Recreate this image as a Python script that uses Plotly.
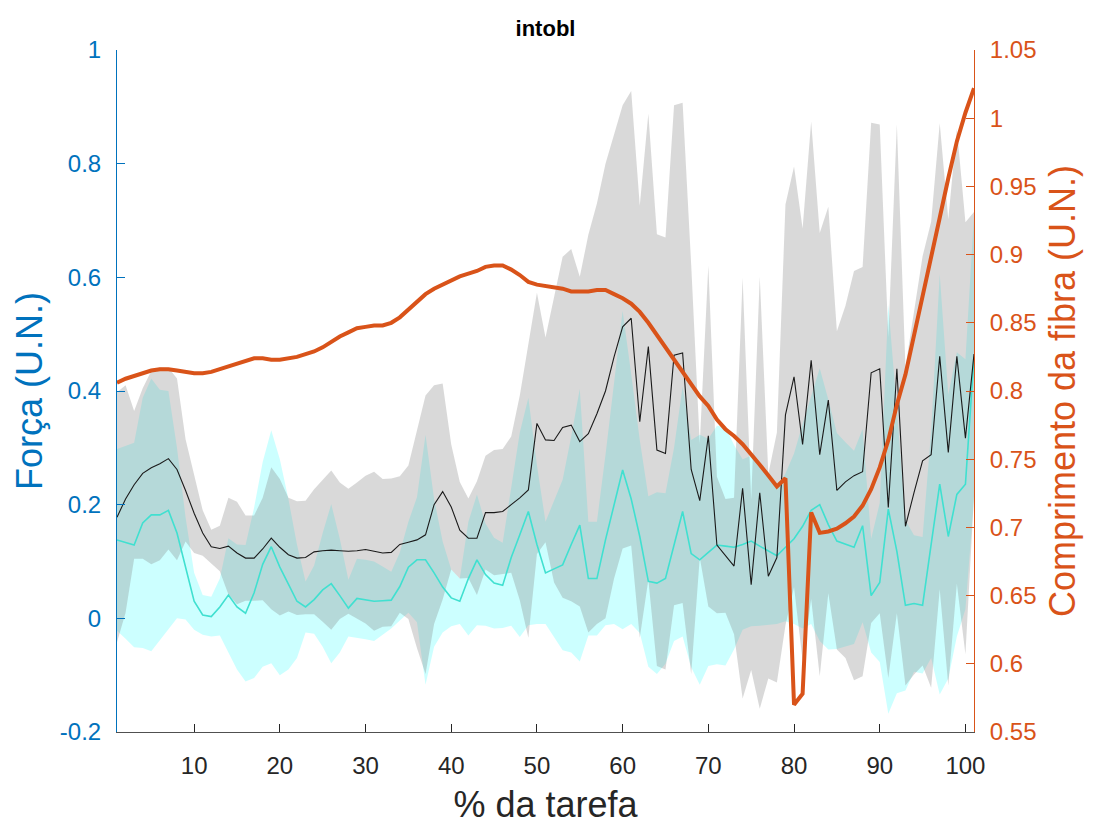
import plotly.graph_objects as go

# % da tarefa (1..101)
pct = list(range(1, 102))

# Força média (traço preto) e desvio-padrão (faixa cinzenta)
forca_media = [
    0.178, 0.21, 0.235, 0.255, 0.265, 0.272, 0.281, 0.262, 0.225, 0.185,
    0.15, 0.126, 0.123, 0.127, 0.115, 0.106, 0.106, 0.122, 0.141, 0.125,
    0.112, 0.106, 0.107, 0.117, 0.119, 0.12, 0.119, 0.118, 0.119, 0.121,
    0.118, 0.115, 0.116, 0.13, 0.134, 0.138, 0.147, 0.2, 0.223, 0.196,
    0.155, 0.141, 0.141, 0.186, 0.186, 0.188, 0.2, 0.212, 0.226, 0.343,
    0.314, 0.313, 0.336, 0.34, 0.311, 0.325, 0.36, 0.40, 0.46, 0.513,
    0.528, 0.346, 0.478, 0.296, 0.29, 0.463, 0.467, 0.262, 0.207, 0.321,
    0.129, 0.11, 0.092, 0.229, 0.059, 0.221, 0.074, 0.107, 0.358, 0.425,
    0.306, 0.454, 0.288, 0.384, 0.225, 0.24, 0.251, 0.258, 0.432, 0.439,
    0.195, 0.439, 0.162, 0.221, 0.277, 0.288, 0.461, 0.292, 0.461, 0.317,
    0.465,
]
forca_dp = [
    0.22, 0.20, 0.13, 0.15, 0.17, 0.17, 0.16, 0.16, 0.09, 0.07,
    0.04, 0.03, 0.04, 0.085, 0.09, 0.075, 0.075, 0.09, 0.125, 0.12,
    0.10, 0.10, 0.10, 0.11, 0.125, 0.14, 0.12, 0.11, 0.12, 0.13,
    0.14, 0.13, 0.13, 0.12, 0.135, 0.19, 0.245, 0.21, 0.19, 0.11,
    0.085, 0.07, 0.10, 0.10, 0.11, 0.11, 0.12, 0.18, 0.26, 0.23,
    0.18, 0.25, 0.30, 0.31, 0.29, 0.35, 0.37, 0.40, 0.39, 0.39,
    0.40, 0.38, 0.41, 0.38, 0.38, 0.44, 0.44, 0.36, 0.10, 0.30,
    0.12, 0.10, 0.12, 0.37, 0.15, 0.38, 0.18, 0.22, 0.37, 0.37,
    0.38, 0.42, 0.39, 0.34, 0.28, 0.31, 0.36, 0.36, 0.44, 0.43,
    0.30, 0.43, 0.28, 0.32, 0.36, 0.41, 0.41, 0.41, 0.40, 0.38,
    0.25,
]

# Segunda série de força (traço turquesa) e desvio-padrão (faixa ciano)
forca2_media = [
    0.138, 0.134, 0.129, 0.168, 0.182, 0.182, 0.19, 0.15, 0.088, 0.03,
    0.006, 0.003, 0.02, 0.041, 0.02, 0.009, 0.045, 0.095, 0.126, 0.09,
    0.06, 0.03, 0.02, 0.033, 0.05, 0.061, 0.04, 0.018, 0.035, 0.033,
    0.03, 0.031, 0.032, 0.056, 0.09, 0.103, 0.103, 0.08, 0.055, 0.036,
    0.03, 0.07, 0.103, 0.077, 0.062, 0.058, 0.107, 0.147, 0.188, 0.13,
    0.08, 0.087, 0.094, 0.13, 0.164, 0.07, 0.07, 0.138, 0.20, 0.261,
    0.21, 0.144, 0.065, 0.062, 0.07, 0.13, 0.188, 0.114, 0.103, 0.116,
    0.129, 0.127, 0.125, 0.13, 0.136, 0.127, 0.118, 0.11, 0.125, 0.14,
    0.162, 0.19, 0.2, 0.165, 0.136, 0.13, 0.125, 0.163, 0.04, 0.063,
    0.192, 0.118, 0.023, 0.026, 0.023, 0.13, 0.236, 0.144, 0.218, 0.236,
    0.46,
]
forca2_dp = [
    0.16, 0.17, 0.18, 0.22, 0.24, 0.22, 0.21, 0.15, 0.09, 0.05,
    0.035, 0.035, 0.05, 0.10, 0.11, 0.12, 0.15, 0.18, 0.205, 0.19,
    0.15, 0.10, 0.045, 0.06, 0.10, 0.14, 0.10, 0.05, 0.07, 0.07,
    0.07, 0.06, 0.05, 0.06, 0.08, 0.11, 0.22, 0.13, 0.08, 0.05,
    0.04, 0.10, 0.115, 0.09, 0.08, 0.075, 0.12, 0.18, 0.20, 0.14,
    0.09, 0.12, 0.15, 0.19, 0.24, 0.10, 0.10, 0.15, 0.21, 0.28,
    0.22, 0.17, 0.15, 0.16, 0.15, 0.17, 0.22, 0.20, 0.22, 0.20,
    0.21, 0.21, 0.18, 0.15, 0.15, 0.14, 0.13, 0.12, 0.13, 0.15,
    0.18, 0.20, 0.24, 0.22, 0.19, 0.18, 0.17, 0.17, 0.10, 0.14,
    0.36, 0.25, 0.15, 0.12, 0.12, 0.20, 0.37, 0.25, 0.25, 0.22,
    0.25,
]

# Comprimento da fibra (eixo direito)
comprimento = [
    0.806, 0.809, 0.811, 0.813, 0.815, 0.816, 0.816, 0.815, 0.814, 0.813,
    0.813, 0.814, 0.816, 0.818, 0.820, 0.822, 0.824, 0.824, 0.823, 0.823,
    0.824, 0.825, 0.827, 0.829, 0.832, 0.836, 0.840, 0.843, 0.846, 0.847,
    0.848, 0.848, 0.850, 0.854, 0.860, 0.866, 0.871, 0.875, 0.878, 0.881,
    0.884, 0.886, 0.888, 0.891, 0.892, 0.892, 0.889, 0.885, 0.880, 0.878,
    0.877, 0.876, 0.875, 0.873, 0.873, 0.873, 0.874, 0.874, 0.871, 0.868,
    0.864, 0.858, 0.850, 0.841, 0.832, 0.823, 0.814, 0.805, 0.796, 0.789,
    0.779, 0.772, 0.767, 0.761, 0.754, 0.746, 0.738, 0.730, 0.736, 0.570,
    0.578, 0.711, 0.696, 0.697, 0.699, 0.703, 0.708, 0.716, 0.728, 0.744,
    0.764, 0.790, 0.812, 0.840, 0.868, 0.898, 0.927, 0.956, 0.983, 1.004,
    1.022,
]

eixo_esq_ticks = [-0.2, 0, 0.2, 0.4, 0.6, 0.8, 1]
eixo_esq_texto = ["-0.2", "0", "0.2", "0.4", "0.6", "0.8", "1"]
eixo_dir_ticks = [0.55, 0.6, 0.65, 0.7, 0.75, 0.8, 0.85, 0.9, 0.95, 1.0, 1.05]
eixo_dir_texto = ["0.55", "0.6", "0.65", "0.7", "0.75", "0.8", "0.85",
                  "0.9", "0.95", "1", "1.05"]
eixo_x_ticks = [10, 20, 30, 40, 50, 60, 70, 80, 90, 100]

AZUL = "#0072BD"
LARANJA = "#D95319"
CINZA_TXT = "#262626"
FONTE = "Liberation Sans, Arial, sans-serif"

LARGURA, ALTURA = 1098, 825


def faixa(media, dp):
    sup = [m + s for m, s in zip(media, dp)]
    inf = [m - s for m, s in zip(media, dp)]
    return pct + pct[::-1], sup + inf[::-1]


fig = go.Figure()

xb, yb = faixa(forca2_media, forca2_dp)
fig.add_trace(go.Scatter(x=xb, y=yb, fill="toself", mode="lines",
                         line=dict(width=0), fillcolor="rgba(0,255,255,0.20)",
                         hoverinfo="skip", showlegend=False))
xg, yg = faixa(forca_media, forca_dp)
fig.add_trace(go.Scatter(x=xg, y=yg, fill="toself", mode="lines",
                         line=dict(width=0), fillcolor="rgba(128,128,128,0.30)",
                         hoverinfo="skip", showlegend=False))
fig.add_trace(go.Scatter(x=pct, y=forca2_media, mode="lines",
                         line=dict(color="#40E0D0", width=1.6),
                         showlegend=False))
fig.add_trace(go.Scatter(x=pct, y=forca_media, mode="lines",
                         line=dict(color="#1a1a1a", width=1.1),
                         showlegend=False))
fig.add_trace(go.Scatter(x=pct, y=comprimento, mode="lines", yaxis="y2",
                         line=dict(color=LARANJA, width=4),
                         showlegend=False))

fig.update_layout(
    width=LARGURA, height=ALTURA, autosize=False,
    margin=dict(l=117, r=124, t=50, b=ALTURA - 732),
    paper_bgcolor="white", plot_bgcolor="white",
    font=dict(family=FONTE, size=24, color=CINZA_TXT),
    title=dict(text="<b>intobl</b>", x=0.5, xref="paper", xanchor="center",
               y=1 - 28 / ALTURA, yanchor="middle",
               font=dict(family=FONTE, size=22, color="black")),
    xaxis=dict(range=[1, 101], tickvals=eixo_x_ticks, ticks="inside",
               ticklen=8, tickcolor=CINZA_TXT, showline=True,
               linecolor="#505050", linewidth=1, showgrid=False,
               zeroline=False, ticklabelstandoff=12, automargin=False,
               tickfont=dict(size=24, color=CINZA_TXT),
               title=dict(text="% da tarefa", standoff=16,
                          font=dict(size=36, color=CINZA_TXT))),
    yaxis=dict(range=[-0.2, 1], tickvals=eixo_esq_ticks,
               ticktext=eixo_esq_texto, ticks="inside", ticklen=8,
               tickcolor=AZUL, showline=True, linecolor=AZUL, linewidth=1,
               showgrid=False, zeroline=False, ticklabelstandoff=10,
               automargin=False,
               tickfont=dict(size=24, color=AZUL),
               title=dict(text="Força (U.N.)", standoff=6,
                          font=dict(size=36, color=AZUL))),
    yaxis2=dict(range=[0.55, 1.05], overlaying="y", side="right",
                tickvals=eixo_dir_ticks, ticktext=eixo_dir_texto,
                ticks="inside", ticklen=8, tickcolor=LARANJA, showline=True,
                linecolor=LARANJA, linewidth=1, showgrid=False,
                zeroline=False, ticklabelstandoff=10, automargin=False,
                tickfont=dict(size=24, color=LARANJA),
                title=dict(text="Comprimento da fibra (U.N.)", standoff=14,
                           font=dict(size=36, color=LARANJA))),
)

fig.write_html("out.html")
